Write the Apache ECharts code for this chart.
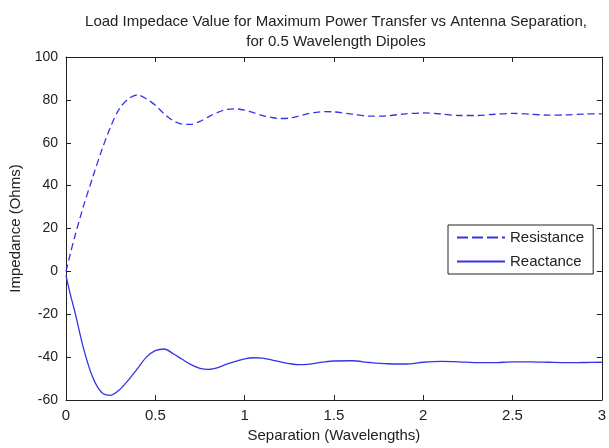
<!DOCTYPE html>
<html>
<head>
<meta charset="utf-8">
<script src="https://cdn.jsdelivr.net/npm/echarts@6/dist/echarts.min.js"></script>
<style>
  html, body { margin: 0; padding: 0; background: #ffffff; }
  #chart { width: 609px; height: 448px; }
</style>
</head>
<body>
<div id="chart"></div>
<script>
// Separation between the two dipoles, in wavelengths
var separation = [0, 0.025, 0.05, 0.1, 0.15, 0.2, 0.25, 0.3, 0.35, 0.4, 0.45, 0.5, 0.55, 0.6, 0.65,
  0.7, 0.75, 0.8, 0.85, 0.9, 0.95, 1.0, 1.05, 1.1, 1.15, 1.2, 1.25, 1.3, 1.35, 1.4, 1.45, 1.5,
  1.6, 1.7, 1.8, 1.9, 2.0, 2.1, 2.2, 2.3, 2.4, 2.5, 2.6, 2.7, 2.8, 2.9, 3.0];

// Load resistance (Ohms)
var resistance = [0, 8.5, 16.5, 31, 44, 56.5, 67.5, 76, 80.5, 82.3, 80.5, 77.5, 73.5, 70.3, 68.7,
  68.6, 70, 72.2, 74.2, 75.5, 75.8, 75.2, 74, 72.7, 71.8, 71.3, 71.5, 72.4, 73.5, 74.2, 74.5, 74.4,
  73.4, 72.4, 72.6, 73.5, 73.9, 73.4, 72.7, 72.7, 73.3, 73.7, 73.3, 72.9, 73.0, 73.4, 73.5];

// Load reactance (Ohms)
var reactance = [-2, -11, -19, -36.5, -49.5, -56.5, -57.8, -55.2, -50.6, -45.4, -40, -37, -36.2, -38.4, -41,
  -43.5, -45.2, -45.7, -44.9, -43.3, -42, -40.8, -40.3, -40.5, -41.3, -42.2, -43, -43.5, -43.4, -42.8, -42.2, -41.8,
  -41.7, -42.5, -43.1, -43.2, -42.4, -42, -42.2, -42.6, -42.6, -42.2, -42.2, -42.4, -42.6, -42.5, -42.4];

var xTicks = { min: 0, max: 3, interval: 0.5 };
var yTicks = { min: -60, max: 100, interval: 20 };

function pairs(xs, ys) {
  return xs.map(function (x, i) { return [x, ys[i]]; });
}

var ink = '#222222';
var lineBlue = '#3434e6';
var font = 'Liberation Sans, Arial, sans-serif';

function boxAxis(base, position, showLabel, labelSize) {
  return Object.assign({
    type: 'value',
    position: position,
    axisLine: { show: true, onZero: false, lineStyle: { color: ink, width: 1 } },
    axisTick: { show: true, inside: true, length: 5, lineStyle: { color: ink } },
    axisLabel: { show: showLabel, color: ink, fontSize: labelSize || 14, fontFamily: font, margin: 8 },
    splitLine: { show: false }
  }, base);
}

var chart = echarts.init(document.getElementById('chart'), null, { renderer: 'canvas' });

chart.setOption({
  animation: false,
  backgroundColor: '#ffffff',
  title: {
    text: 'Load Impedace Value for Maximum Power Transfer vs Antenna Separation,\nfor 0.5 Wavelength Dipoles',
    left: 336,
    top: 12,
    padding: 0,
    textAlign: 'center',
    textStyle: { color: ink, fontSize: 15, fontWeight: 'normal', fontFamily: font, lineHeight: 20 }
  },
  grid: { left: 66, right: 3, top: 57, bottom: 41, containLabel: false },
  legend: {
    orient: 'vertical',
    left: 448,
    top: 225,
    padding: [5, 9, 5, 8],
    itemWidth: 48,
    itemHeight: 14,
    itemGap: 9,
    backgroundColor: '#ffffff',
    borderColor: ink,
    borderWidth: 1,
    borderRadius: 0,
    itemStyle: { opacity: 0 },
    textStyle: { color: ink, fontSize: 15, fontFamily: font },
    data: [
      { name: 'Resistance', lineStyle: { type: [11, 4] } },
      { name: 'Reactance' }
    ]
  },
  xAxis: [
    boxAxis({
      min: xTicks.min, max: xTicks.max, interval: xTicks.interval,
      name: 'Separation (Wavelengths)',
      nameLocation: 'middle',
      nameGap: 28,
      nameTextStyle: { color: ink, fontSize: 15, fontFamily: font }
    }, 'bottom', true, 15),
    boxAxis({ min: xTicks.min, max: xTicks.max, interval: xTicks.interval }, 'top', false)
  ],
  yAxis: [
    boxAxis({
      min: yTicks.min, max: yTicks.max, interval: yTicks.interval,
      name: 'Impedance (Ohms)',
      nameLocation: 'middle',
      nameGap: 43,
      nameTextStyle: { color: ink, fontSize: 15, fontFamily: font }
    }, 'left', true, 14),
    boxAxis({ min: yTicks.min, max: yTicks.max, interval: yTicks.interval }, 'right', false)
  ],
  series: [
    {
      name: 'Resistance',
      type: 'line',
      xAxisIndex: 0,
      yAxisIndex: 0,
      smooth: 0.3,
      symbol: 'none',
      showSymbol: false,
      lineStyle: { color: lineBlue, width: 1.3, type: [7, 4] },
      itemStyle: { color: lineBlue },
      data: pairs(separation, resistance)
    },
    {
      name: 'Reactance',
      type: 'line',
      xAxisIndex: 0,
      yAxisIndex: 0,
      smooth: 0.3,
      symbol: 'none',
      showSymbol: false,
      lineStyle: { color: lineBlue, width: 1.3, type: 'solid' },
      itemStyle: { color: lineBlue },
      data: pairs(separation, reactance)
    }
  ]
});
</script>
</body>
</html>
